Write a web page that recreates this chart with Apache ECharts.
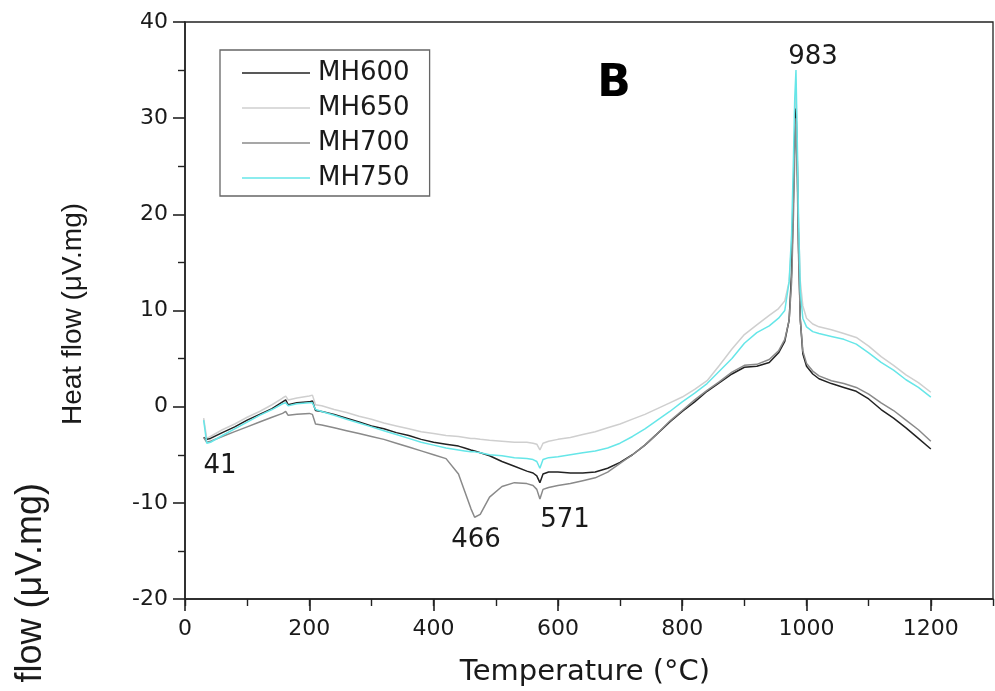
<!DOCTYPE html>
<html>
<head>
<meta charset="utf-8">
<script src="https://cdn.jsdelivr.net/npm/echarts@6/dist/echarts.min.js"></script>
<style>html,body{margin:0;padding:0;background:#fff;}#c{width:995px;height:691px;}</style>
</head>
<body>
<div id="c"></div>
<script>
const temps = [30,35,41,60,80,100,120,140,157,162,166,180,200,205,210,220,240,260,280,300,320,340,360,380,400,420,440,450,460,466,475,490,510,530,550,560,566,571,576,585,600,620,640,660,680,700,720,740,760,780,800,820,840,860,880,900,920,940,955,965,972,976,979,981,983,985,987,990,994,1000,1010,1020,1040,1060,1080,1100,1120,1140,1160,1180,1200];

const mh600 = [-3.2,-3.4,-3.3,-2.7,-2.1,-1.4,-0.8,-0.2,0.5,0.7,0.2,0.4,0.5,0.6,-0.4,-0.5,-0.8,-1.2,-1.6,-2.0,-2.3,-2.7,-3.0,-3.4,-3.7,-3.9,-4.1,-4.3,-4.5,-4.6,-4.8,-5.1,-5.7,-6.2,-6.7,-6.9,-7.2,-7.9,-7.0,-6.8,-6.8,-6.9,-6.9,-6.8,-6.4,-5.8,-5.0,-4.0,-2.8,-1.6,-0.5,0.5,1.6,2.5,3.4,4.1,4.2,4.6,5.6,6.8,9,14,22,28,31,26,17,9,5.5,4.2,3.4,2.9,2.4,2.0,1.6,0.8,-0.3,-1.2,-2.2,-3.3,-4.4];

const mh650 = [-1.2,-3.3,-3.1,-2.4,-1.8,-1.1,-0.5,0.2,0.9,1.1,0.7,0.9,1.1,1.2,0.2,0.1,-0.3,-0.6,-1.0,-1.3,-1.7,-2.0,-2.3,-2.6,-2.8,-3.0,-3.1,-3.2,-3.3,-3.3,-3.4,-3.5,-3.6,-3.7,-3.7,-3.8,-3.9,-4.5,-3.8,-3.6,-3.4,-3.2,-2.9,-2.6,-2.2,-1.8,-1.3,-0.8,-0.2,0.4,1.0,1.8,2.7,4.3,6.0,7.5,8.5,9.5,10.2,11.0,13,17,23,28,33,27,19,13,10.5,9.2,8.6,8.3,8.0,7.6,7.2,6.3,5.2,4.3,3.3,2.5,1.5];

const mh700 = [-3.2,-3.7,-3.6,-3.1,-2.6,-2.1,-1.6,-1.1,-0.7,-0.5,-0.9,-0.8,-0.7,-0.8,-1.8,-1.9,-2.2,-2.5,-2.8,-3.1,-3.4,-3.8,-4.2,-4.6,-5.0,-5.4,-7.0,-8.8,-10.6,-11.5,-11.2,-9.4,-8.3,-7.9,-8.0,-8.2,-8.6,-9.6,-8.6,-8.4,-8.2,-8.0,-7.7,-7.4,-6.8,-5.9,-5.0,-4.0,-2.8,-1.5,-0.4,0.7,1.7,2.6,3.6,4.3,4.4,4.9,5.8,7.0,9,13,20,26,30,24,16,9,5.8,4.5,3.7,3.2,2.7,2.4,2.0,1.3,0.4,-0.4,-1.4,-2.4,-3.6];

const mh750 = [-1.4,-3.8,-3.7,-3.0,-2.3,-1.6,-0.9,-0.3,0.3,0.4,0.1,0.3,0.4,0.4,-0.3,-0.5,-0.9,-1.3,-1.7,-2.1,-2.5,-2.9,-3.3,-3.7,-4.0,-4.3,-4.5,-4.6,-4.7,-4.7,-4.8,-5.0,-5.1,-5.3,-5.4,-5.5,-5.7,-6.4,-5.5,-5.3,-5.2,-5.0,-4.8,-4.6,-4.3,-3.8,-3.1,-2.3,-1.4,-0.5,0.5,1.4,2.4,3.7,5.0,6.6,7.7,8.4,9.2,10.0,13,18,26,32,35,28,20,12,9.2,8.3,7.8,7.6,7.3,7.0,6.5,5.6,4.6,3.8,2.8,2.0,1.0];

const seriesNames = ['MH600','MH650','MH700','MH750'];
const seriesColors = ['#222222','#cfcfcf','#8a8a8a','#66e6e8'];
const xTicks = [0,200,400,600,800,1000,1200];
const yTicks = [-20,-10,0,10,20,30,40];
const peakLabels = ['41','466','571','983'];

const allVals = [mh600, mh650, mh700, mh750];
const FONT = '"DejaVu Sans", sans-serif';
const FONT2 = '"Liberation Sans", Arial, sans-serif';

const chart = echarts.init(document.getElementById('c'), null, {renderer:'canvas'});
const option = {
  animation: false,
  backgroundColor: '#fff',
  grid: {left:185, top:22, right:2, bottom:92, show:true, borderColor:'#222', borderWidth:1.3, backgroundColor:'transparent'},
  legend: {
    orient:'vertical', left:220, top:50,
    data: seriesNames,
    itemWidth:68, itemHeight:12, itemGap:9,
    padding:[10,20,5,22],
    borderColor:'#666', borderWidth:1.3,
    textStyle:{fontSize:26, fontFamily:FONT, color:'#1a1a1a', padding:[0,0,0,3]},
    icon: 'path://M0,0 L70,0 L70,1.6 L0,1.6 Z'
  },
  xAxis: [{
    type:'value', min:0, max:1300, interval:200, position:'bottom',
    axisLine:{show:true, onZero:false, lineStyle:{color:'#222', width:1.6}},
    axisTick:{show:true, length:12, lineStyle:{color:'#222', width:1.6}},
    minorTick:{show:false},
    splitLine:{show:false},
    axisLabel:{fontSize:22, fontFamily:FONT, color:'#1a1a1a', margin:19, showMaxLabel:false,
      formatter: v => xTicks.indexOf(v) >= 0 ? String(v) : ''}
  },{
    type:'value', min:0, max:1300, interval:100, position:'bottom',
    axisLine:{show:false, onZero:false},
    axisTick:{show:true, length:7, lineStyle:{color:'#222', width:1.4}},
    axisLabel:{show:false}, splitLine:{show:false}
  }],
  yAxis: {
    type:'value', min:-20, max:40, interval:10,
    axisLine:{show:true, onZero:false, lineStyle:{color:'#222', width:1.6}},
    axisTick:{show:true, length:12, lineStyle:{color:'#222', width:1.6}},
    minorTick:{show:true, splitNumber:2, length:7, lineStyle:{color:'#222', width:1.4}},
    splitLine:{show:false},
    axisLabel:{fontSize:22, fontFamily:FONT, color:'#1a1a1a', margin:17,
      formatter: v => yTicks.indexOf(v) >= 0 ? String(v) : ''}
  },
  series: seriesNames.map((n,i)=>({
    name:n, type:'line', xAxisIndex:0, showSymbol:false, symbol:'none',
    color: seriesColors[i],
    lineStyle:{color:seriesColors[i], width:1.5},
    z: i===3 ? 3 : (i===1 ? 1 : 2),
    data: temps.map((t,k)=>[t, allVals[i][k]])
  })),
  graphic: [
    {type:'text', x:73, y:314, rotation:Math.PI/2, style:{text:'Heat flow (μV.mg)', fontSize:28, fontFamily:FONT2, fill:'#1a1a1a', textAlign:'center', textVerticalAlign:'middle'}},
    {type:'text', x:31, y:483, rotation:Math.PI/2, style:{text:'Heat flow (μV.mg)', fontSize:36, fontFamily:FONT2, fill:'#1a1a1a', textAlign:'right', textVerticalAlign:'middle'}},
    {type:'text', x:585, y:672, style:{text:'Temperature (°C)', fontSize:29, fontFamily:FONT, fill:'#1a1a1a', textAlign:'center', textVerticalAlign:'middle'}},
    {type:'text', x:614, y:85, style:{text:'B', fontSize:44, fontWeight:'bold', fontFamily:FONT, fill:'#000', textAlign:'center', textVerticalAlign:'middle'}},
    {type:'text', x:220, y:466, style:{text:peakLabels[0], fontSize:26, fontFamily:FONT, fill:'#1a1a1a', textAlign:'center', textVerticalAlign:'middle'}},
    {type:'text', x:476, y:540, style:{text:peakLabels[1], fontSize:26, fontFamily:FONT, fill:'#1a1a1a', textAlign:'center', textVerticalAlign:'middle'}},
    {type:'text', x:565, y:520, style:{text:peakLabels[2], fontSize:26, fontFamily:FONT, fill:'#1a1a1a', textAlign:'center', textVerticalAlign:'middle'}},
    {type:'text', x:813, y:57, style:{text:peakLabels[3], fontSize:26, fontFamily:FONT, fill:'#1a1a1a', textAlign:'center', textVerticalAlign:'middle'}}
  ]
};
chart.setOption(option);
</script>
</body>
</html>
